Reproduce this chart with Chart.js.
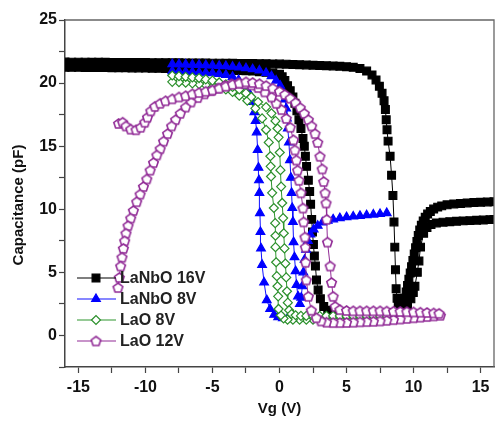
<!DOCTYPE html>
<html>
<head>
<meta charset="utf-8">
<script src="https://cdn.jsdelivr.net/npm/chart.js@4.4.0/dist/chart.umd.min.js"></script>
<style>
    body { margin: 0; background: #fff; }
    canvas { display: block; }
</style>
</head>
<body>
<canvas id="cvChart" width="495" height="428"></canvas>
<script>
// tick positions (labels only on multiples of 5)
const vgTicks = [-15, -12.5, -10, -7.5, -5, -2.5, 0, 2.5, 5, 7.5, 10, 12.5, 15]
const capTicks = [-2.5, 0, 2.5, 5, 7.5, 10, 12.5, 15, 17.5, 20, 22.5, 25]

const labels = ['LaNbO 16V', 'LaNbO 8V', 'LaO 8V', 'LaO 12V']

// [Vg (V), C (pF)], one list per sweep
const lanbo16Fwd = [[-16,21.25],[-15.5,21.25],[-15,21.25],[-14.5,21.24],[-14,21.24],[-13.5,21.23],[-13,21.23],[-12.5,21.22],[-12,21.22],[-11.5,21.21],[-11,21.2],[-10.5,21.2],[-10,21.19],[-9.5,21.18],[-9,21.17],[-8.5,21.16],[-8,21.15],[-7.5,21.14],[-7,21.13],[-6.5,21.12],[-6,21.11],[-5.5,21.1],[-5,21.08],[-4.5,21.06],[-4,21.04],[-3.5,21.02],[-3,21.0],[-2.5,20.98],[-2,20.95],[-1.5,20.9],[-1,20.85],[-0.5,20.8],[0,20.7],[0.2,20.5],[0.4,20.2],[0.6,19.8],[0.8,19.4],[1.0,18.9],[1.15,18.4],[1.3,17.8],[1.45,17.1],[1.6,16.4],[1.75,15.6],[1.85,15.0],[1.93,14.2],[2.02,13.4],[2.15,12.3],[2.25,11.4],[2.32,10.4],[2.4,9.2],[2.46,8.2],[2.53,7.2],[2.6,6.3],[2.68,5.5],[2.76,4.4],[2.88,3.6],[3.05,2.9],[3.3,2.3],[3.6,2.0],[4.0,1.8],[4.5,1.72],[5.0,1.7],[5.5,1.7],[6.0,1.7],[6.5,1.7],[7.0,1.72],[7.5,1.74],[8.0,1.76],[8.5,1.8],[9.0,1.88],[9.3,2.05],[9.55,2.4],[9.8,2.9],[9.98,3.4],[10.1,3.9],[10.28,5.0],[10.4,5.9],[10.52,7.0],[10.75,8.1],[11.0,8.55],[11.3,8.8],[11.7,8.92],[12.2,8.98],[12.7,9.02],[13.2,9.05],[13.7,9.08],[14.2,9.1],[14.7,9.13],[15.2,9.15],[15.7,9.18],[16,9.2]]
const lanbo16Rev = [[16,10.6],[15.5,10.58],[15,10.56],[14.5,10.53],[14,10.5],[13.5,10.46],[13,10.42],[12.5,10.35],[12.1,10.27],[11.8,10.17],[11.5,10.02],[11.25,9.83],[11.05,9.62],[10.87,9.37],[10.72,9.08],[10.58,8.74],[10.46,8.36],[10.35,7.92],[10.25,7.45],[10.15,6.95],[10.05,6.45],[9.95,5.95],[9.85,5.45],[9.75,4.95],[9.65,4.45],[9.55,3.95],[9.45,3.45],[9.32,2.95],[9.17,2.58],[9.0,2.42],[8.86,2.6],[8.77,2.95],[8.7,3.7],[8.65,5.2],[8.6,7.0],[8.54,9.0],[8.46,11.1],[8.36,12.7],[8.25,14.2],[8.1,15.4],[8.02,16.3],[7.96,17.1],[7.9,17.9],[7.8,18.6],[7.65,19.2],[7.45,19.75],[7.2,20.25],[6.9,20.65],[6.5,20.95],[6.0,21.15],[5.5,21.25],[5.0,21.3],[4.5,21.33],[4.0,21.36],[3.5,21.38],[3.0,21.4],[2.5,21.42],[2.0,21.44],[1.5,21.46],[1.0,21.48],[0.5,21.5],[0,21.51],[-0.5,21.52],[-1,21.53],[-1.5,21.54],[-2,21.55],[-2.5,21.56],[-3,21.56],[-3.5,21.57],[-4,21.57],[-4.5,21.58],[-5,21.58],[-5.5,21.59],[-6,21.59],[-6.5,21.6],[-7,21.6],[-7.5,21.61],[-8,21.61],[-8.5,21.62],[-9,21.62],[-9.5,21.62],[-10,21.63],[-10.5,21.63],[-11,21.63],[-11.5,21.64],[-12,21.64],[-12.5,21.64],[-13,21.65],[-13.5,21.65],[-14,21.65],[-14.5,21.66],[-15,21.66],[-15.5,21.66],[-16,21.67]]

const lanbo8Fwd = [[-8,21.5],[-7.5,21.5],[-7,21.48],[-6.5,21.46],[-6,21.45],[-5.5,21.42],[-5,21.4],[-4.5,21.37],[-4,21.35],[-3.5,21.3],[-3,21.25],[-2.5,21.18],[-2,21.1],[-1.5,21.0],[-1,20.8],[-0.6,20.55],[-0.25,20.2],[0.05,19.8],[0.25,19.3],[0.4,18.7],[0.5,18.0],[0.55,17.2],[0.62,16.4],[0.7,15.3],[0.78,13.9],[0.85,12.5],[0.9,11.3],[0.95,10.1],[1.0,9.0],[1.05,7.4],[1.12,6.2],[1.2,5.1],[1.27,4.0],[1.38,3.1],[1.52,2.5],[1.62,3.0],[1.7,3.9],[1.78,5.0],[1.87,6.0],[1.98,6.8],[2.12,7.5],[2.3,8.0],[2.55,8.4],[2.85,8.7],[3.2,8.95],[3.6,9.1],[4.0,9.2],[4.5,9.3],[5,9.38],[5.5,9.43],[6,9.48],[6.5,9.53],[7,9.58],[7.5,9.63],[8,9.7]]
const lanbo8Rev = [[8,1.6],[7.5,1.6],[7,1.58],[6.5,1.56],[6,1.55],[5.5,1.53],[5,1.5],[4.5,1.48],[4,1.46],[3.5,1.44],[3,1.42],[2.5,1.4],[2,1.38],[1.5,1.36],[1,1.35],[0.6,1.35],[0.25,1.37],[-0.1,1.45],[-0.4,1.65],[-0.7,2.1],[-0.95,2.8],[-1.15,4.2],[-1.3,5.6],[-1.38,6.9],[-1.42,8.2],[-1.46,9.7],[-1.5,11.3],[-1.53,12.3],[-1.57,13.3],[-1.63,14.7],[-1.7,16.1],[-1.78,17.0],[-1.88,17.7],[-2.02,18.5],[-2.25,19.2],[-2.6,19.8],[-3.05,20.25],[-3.5,20.5],[-4,20.65],[-4.5,20.72],[-5,20.78],[-5.5,20.82],[-6,20.85],[-6.5,20.88],[-7,20.9],[-7.5,20.92],[-8,20.95]]

const lao8Fwd = [[-8,20.6],[-7.5,20.55],[-7,20.5],[-6.5,20.45],[-6,20.4],[-5.5,20.3],[-5,20.2],[-4.5,20.05],[-4,19.9],[-3.5,19.7],[-3,19.5],[-2.5,19.2],[-2.1,18.9],[-1.6,18.5],[-1.0,18.1],[-0.6,17.6],[-0.3,17.0],[-0.15,16.4],[-0.07,15.7],[0.02,14.5],[0.07,13.1],[0.12,11.8],[0.2,10.5],[0.27,9.3],[0.32,8.1],[0.37,6.9],[0.44,5.7],[0.5,4.6],[0.56,3.5],[0.62,2.6],[0.72,2.0],[0.9,1.7],[1.2,1.6],[1.6,1.55],[2,1.55],[2.5,1.55],[3,1.55],[3.5,1.55],[4,1.55],[4.5,1.55],[5,1.55],[5.5,1.55],[6,1.55],[6.5,1.55],[7,1.55],[7.5,1.55],[8,1.55]]
const lao8Rev = [[8,1.25],[7.5,1.25],[7,1.25],[6.5,1.25],[6,1.25],[5.5,1.25],[5,1.25],[4.5,1.25],[4,1.25],[3.5,1.25],[3,1.25],[2.5,1.25],[2,1.25],[1.5,1.25],[1,1.25],[0.6,1.25],[0.3,1.35],[0.1,1.6],[-0.07,2.1],[-0.1,3.1],[-0.15,3.9],[-0.2,4.7],[-0.25,5.8],[-0.3,7.0],[-0.3,7.9],[-0.32,8.9],[-0.42,10.1],[-0.55,11.3],[-0.63,12.6],[-0.66,13.4],[-0.68,14.2],[-0.8,15.3],[-1.0,16.3],[-1.3,17.2],[-1.8,18.0],[-2.4,18.6],[-3,19.0],[-3.5,19.3],[-4,19.5],[-4.5,19.65],[-5,19.75],[-5.5,19.85],[-6,19.92],[-6.5,19.98],[-7,20.03],[-7.5,20.07],[-8,20.1]]

const lao12Fwd = [[-12.0,16.8],[-11.7,16.9],[-11.45,16.6],[-11.1,16.35],[-10.7,16.3],[-10.35,16.5],[-10.05,16.9],[-9.85,17.3],[-9.6,17.8],[-9.3,18.15],[-8.9,18.4],[-8.5,18.6],[-8,18.75],[-7.5,18.9],[-7,19.0],[-6.5,19.15],[-6,19.25],[-5.5,19.35],[-5,19.45],[-4.5,19.6],[-4,19.75],[-3.5,19.9],[-3,20.0],[-2.5,20.1],[-2,20.05],[-1.5,19.95],[-1,19.8],[-0.5,19.6],[0,19.35],[0.4,19.1],[0.8,18.8],[1.2,18.45],[1.55,18.05],[1.85,17.6],[2.15,17.1],[2.4,16.6],[2.65,16.0],[2.85,15.3],[3.02,14.2],[3.18,13.2],[3.3,12.2],[3.4,11.3],[3.47,10.5],[3.52,9.2],[3.58,7.4],[3.78,5.5],[3.88,4.2],[4.0,3.1],[4.15,2.3],[4.5,2.05],[5,1.98],[5.5,1.95],[6,1.95],[6.5,1.95],[7,1.95],[7.5,1.95],[8,1.93],[8.5,1.92],[9,1.9],[9.5,1.88],[10,1.86],[10.5,1.84],[11,1.82],[11.5,1.78],[11.9,1.75]]
const lao12Rev = [[12,1.6],[11.5,1.55],[11,1.5],[10.5,1.45],[10,1.4],[9.5,1.35],[9,1.3],[8.5,1.25],[8,1.2],[7.5,1.15],[7,1.12],[6.5,1.1],[6,1.08],[5.5,1.05],[5,1.03],[4.5,1.02],[4,1.02],[3.5,1.05],[3.1,1.15],[2.75,1.4],[2.37,2.0],[2.15,3.1],[2.0,4.4],[1.95,5.8],[1.93,7.0],[1.9,7.8],[1.8,9.0],[1.75,10.1],[1.6,11.3],[1.45,12.3],[1.35,13.1],[1.26,13.9],[1.15,14.7],[1.04,15.5],[0.8,16.5],[0.5,17.2],[0.15,17.9],[-0.25,18.4],[-0.6,18.9],[-1.1,19.3],[-1.6,19.65],[-2.1,19.85],[-2.6,19.95],[-3.1,20.0],[-3.6,19.95],[-4.1,19.8],[-4.6,19.6],[-5.1,19.4],[-5.6,19.15],[-6.1,18.85],[-6.6,18.5],[-7.0,18.1],[-7.4,17.6],[-7.75,17.1],[-8.05,16.6],[-8.35,16.0],[-8.65,15.4],[-8.9,14.8],[-9.15,14.3],[-9.4,13.7],[-9.65,13.1],[-9.9,12.4],[-10.15,11.8],[-10.4,11.2],[-10.65,10.6],[-10.9,9.9],[-11.1,9.3],[-11.3,8.7],[-11.45,8.1],[-11.55,7.5],[-11.65,6.9],[-11.75,6.2],[-11.85,5.5],[-11.95,4.6],[-12.05,3.8]]

const FONT = '"Liberation Sans", Arial, sans-serif'
Chart.defaults.font.family = FONT

// open pentagon marker, Chart.js has none
function pentagon(color) {
    const c = document.createElement('canvas')
    c.width = 13
    c.height = 13
    const g = c.getContext('2d')
    g.beginPath()
    for (let i = 0; i < 5; i++) {
        const a = -Math.PI / 2 + i * 2 * Math.PI / 5
        g.lineTo(6.5 + 5 * Math.cos(a), 7 + 5 * Math.sin(a))
    }
    g.closePath()
    g.fillStyle = '#fff'
    g.fill()
    g.strokeStyle = color
    g.lineWidth = 1.6
    g.stroke()
    return c
}

const series = [
    { label: labels[0], sweeps: [lanbo16Fwd, lanbo16Rev], line: '#000', stroke: '#000', fill: '#000', style: 'rect', radius: 5.5, order: 3 },
    { label: labels[1], sweeps: [lanbo8Fwd, lanbo8Rev], line: '#1010ff', stroke: '#0000ff', fill: '#0000ff', style: 'triangle', radius: 5, order: 2 },
    { label: labels[2], sweeps: [lao8Fwd, lao8Rev], line: '#2f962f', stroke: '#2a8f2a', fill: '#fff', style: 'rectRot', radius: 4.5, order: 1 },
    { label: labels[3], sweeps: [lao12Fwd, lao12Rev], line: '#912b96', stroke: '#912b96', fill: '#fff', style: pentagon('#912b96'), radius: 5, order: 0 },
]

const datasets = []
series.forEach(s => {
    s.sweeps.forEach(sw => {
        datasets.push({
            label: s.label,
            data: sw.map(p => ({ x: p[0], y: p[1] })),
            showLine: true,
            borderColor: s.line,
            borderWidth: 1,
            pointStyle: s.style,
            pointRadius: s.radius,
            pointBackgroundColor: s.fill,
            pointBorderColor: s.stroke,
            pointBorderWidth: 1.2,
            order: s.order,
        })
    })
})

// box frame, axis titles and the line-marker-line legend
const decor = {
    id: 'decor',
    afterDraw(chart) {
        const ctx = chart.ctx
        const a = chart.chartArea
        ctx.save()
        ctx.strokeStyle = '#666'
        ctx.lineWidth = 1.3
        ctx.beginPath()
        ctx.moveTo(a.left, a.top)
        ctx.lineTo(a.right, a.top)
        ctx.lineTo(a.right, a.bottom)
        ctx.stroke()

        ctx.fillStyle = '#111'
        ctx.font = 'bold 15px ' + FONT
        ctx.textAlign = 'center'
        ctx.textBaseline = 'middle'
        ctx.fillText('Vg (V)', (a.left + a.right) / 2, a.bottom + 42)
        ctx.save()
        ctx.translate(19, a.top + 185)
        ctx.rotate(-Math.PI / 2)
        ctx.fillText('Capacitance (pF)', 0, 0)
        ctx.restore()

        ctx.font = 'bold 16px ' + FONT
        ctx.textAlign = 'left'
        series.forEach((s, i) => {
            const y = a.bottom - 89 + i * 21
            ctx.strokeStyle = s.line
            ctx.lineWidth = 1.2
            ctx.beginPath()
            ctx.moveTo(a.left + 12, y)
            ctx.lineTo(a.left + 51, y)
            ctx.stroke()
            ctx.fillStyle = s.fill
            ctx.strokeStyle = s.stroke
            ctx.lineWidth = 1.2
            Chart.helpers.drawPoint(ctx, { pointStyle: s.style, radius: s.radius, rotation: 0, borderWidth: 1.2 }, a.left + 31, y)
            ctx.fillStyle = '#222'
            ctx.fillText(s.label, a.left + 55, y + 1)
        })
        ctx.restore()
    }
}

const axisLine = { display: true, color: '#444', width: 1.5 }
const tickFont = { size: 16, weight: 'bold' }

const capChart = new Chart(document.getElementById('cvChart'), {
    type: 'scatter',
    data: { datasets: datasets },
    plugins: [decor],
    options: {
        responsive: false,
        animation: false,
        layout: { autoPadding: false, padding: { top: 20, right: 1, left: 0, bottom: 0 } },
        plugins: { legend: { display: false }, tooltip: { enabled: false } },
        scales: {
            x: {
                type: 'linear',
                min: -16,
                max: 16,
                afterBuildTicks: s => { s.ticks = vgTicks.map(v => ({ value: v })) },
                afterFit: s => { s.height = 61 },
                grid: { drawOnChartArea: false, drawTicks: true, tickLength: 6, tickColor: '#444', tickWidth: 1.2 },
                border: axisLine,
                ticks: { font: tickFont, color: '#111', padding: 5, maxRotation: 0, autoSkip: false,
                    callback: v => (v % 5 === 0 ? v : '') }
            },
            y: {
                type: 'linear',
                min: -2.5,
                max: 25,
                afterBuildTicks: s => { s.ticks = capTicks.map(v => ({ value: v })) },
                afterFit: s => { s.width = 65 },
                grid: { drawOnChartArea: false, drawTicks: true, tickLength: 6, tickColor: '#444', tickWidth: 1.2 },
                border: axisLine,
                ticks: { font: tickFont, color: '#111', padding: 2, autoSkip: false,
                    callback: v => (v % 5 === 0 ? v : '') }
            }
        }
    }
})
</script>
</body>
</html>
